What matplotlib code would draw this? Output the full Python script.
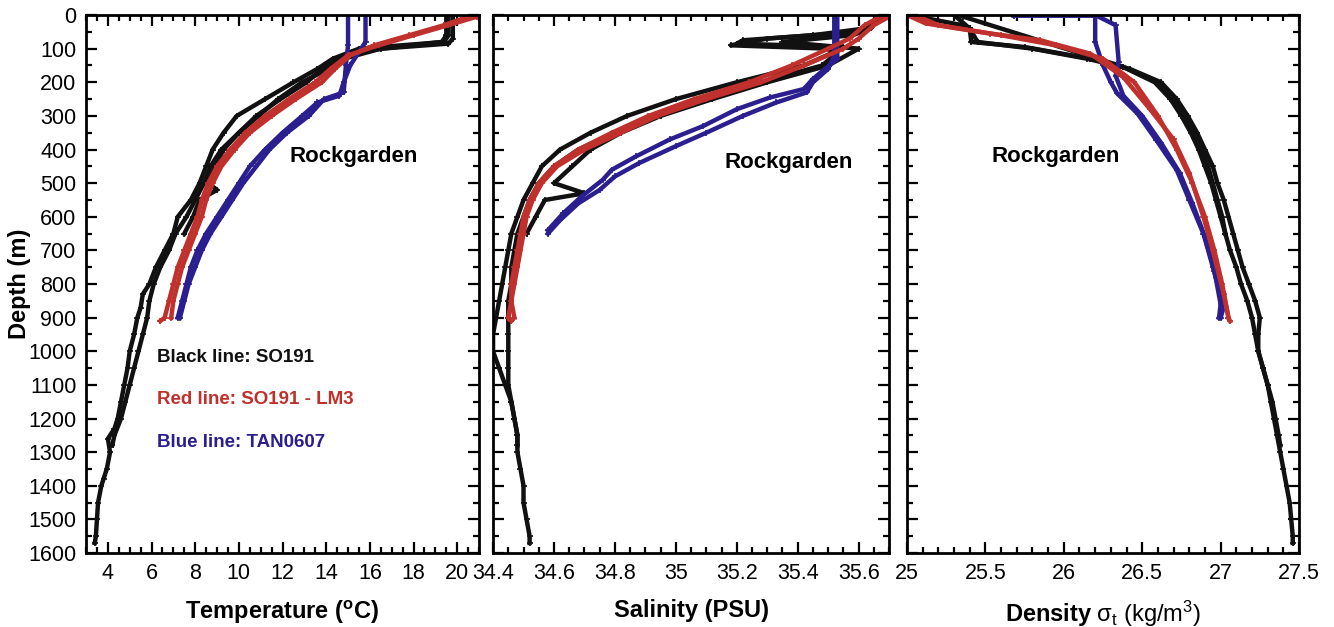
import matplotlib
matplotlib.use("Agg")
import matplotlib.pyplot as plt
from matplotlib.ticker import MultipleLocator, FormatStrFormatter

plt.rcParams["font.family"] = ["Liberation Sans", "DejaVu Sans"]
plt.rcParams["mathtext.fontset"] = "custom"
plt.rcParams["mathtext.rm"] = "Liberation Sans"
plt.rcParams["mathtext.it"] = "Liberation Sans:italic"
plt.rcParams["mathtext.bf"] = "Liberation Sans:bold"

BLACK = "#111111"
RED = "#c0302c"
BLUE = "#2b1f8f"

# ---- temperature profiles (depth m, degC) ----
temp_black1_depth = [0, 60, 80, 100, 130, 160, 200, 250, 300, 350, 400, 450, 500, 550, 600, 650, 700, 750,
                     800, 830, 870, 900, 950, 1000, 1050, 1100, 1150, 1200, 1230, 1260, 1300, 1350, 1380,
                     1400, 1450, 1500, 1550, 1570]
temp_black1 = [19.6, 19.6, 19.4, 15.5, 14.3, 13.6, 12.5, 11.2, 9.9, 9.3, 8.8, 8.5, 8.2, 7.8, 7.2, 7.0, 6.6, 6.2,
               5.9, 5.6, 5.5, 5.35, 5.2, 5.0, 4.9, 4.75, 4.6, 4.45, 4.3, 4.0, 4.1, 3.95, 3.8,
               3.7, 3.55, 3.5, 3.45, 3.4]
temp_black2_depth = [0, 70, 85, 100, 130, 170, 200, 250, 300, 350, 400, 450, 500, 550, 600, 650, 700, 750,
                     800, 850, 900, 950, 1000, 1050, 1100, 1150, 1200, 1250, 1280]
temp_black2 = [19.8, 19.8, 19.6, 16.5, 14.8, 13.8, 12.9, 11.8, 10.9, 10.0, 9.2, 8.7, 8.4, 8.0, 7.6, 7.1, 6.8, 6.4,
               6.1, 5.9, 5.8, 5.6, 5.4, 5.2, 5.0, 4.8, 4.6, 4.3, 4.2]
temp_black3_depth = [0, 60, 80, 110, 150, 200, 250, 300, 350, 400, 450, 500, 520, 550, 600, 650]
temp_black3 = [19.5, 19.5, 19.3, 15.2, 14.0, 13.1, 11.9, 10.8, 10.0, 9.3, 8.9, 8.6, 9.0, 8.2, 7.9, 7.5]
temp_red1_depth = [5, 30, 60, 90, 120, 160, 200, 250, 300, 350, 400, 450, 500, 550, 600, 650, 700, 750,
                   800, 850, 900, 910]
temp_red1 = [20.9, 19.6, 18.0, 16.4, 15.0, 14.2, 13.5, 12.3, 11.2, 10.3, 9.6, 9.0, 8.6, 8.3, 8.1, 7.8, 7.5, 7.2,
             7.0, 6.8, 6.6, 6.4]
temp_red2_depth = [0, 30, 60, 90, 120, 160, 200, 250, 300, 350, 400, 450, 500, 550, 600, 650, 700, 750,
                   800, 850, 900]
temp_red2 = [20.7, 19.4, 17.8, 16.2, 15.1, 14.4, 13.8, 12.6, 11.5, 10.5, 9.8, 9.2, 8.8, 8.5, 8.3, 8.0, 7.7, 7.4,
             7.2, 7.0, 6.9]
temp_blue1_depth = [0, 80, 110, 150, 200, 240, 260, 300, 350, 400, 450, 500, 550, 600, 650, 700, 750, 800,
                    850, 900]
temp_blue1 = [15.8, 15.8, 15.5, 15.1, 14.8, 14.6, 13.6, 12.9, 12.0, 11.2, 10.5, 10.0, 9.5, 9.0, 8.5, 8.1, 7.8,
              7.6, 7.4, 7.2]
temp_blue2_depth = [0, 90, 150, 230, 250, 300, 350, 400, 450, 500, 550, 600, 650, 700, 750, 800, 850, 900]
temp_blue2 = [15.0, 15.0, 14.9, 14.8, 13.9, 13.2, 12.2, 11.4, 10.8, 10.2, 9.7, 9.2, 8.7, 8.3, 8.0, 7.7, 7.5, 7.3]

# ---- salinity profiles (PSU) ----
sal_black1_depth = [0, 40, 60, 75, 85, 95, 110, 150, 200, 250, 300, 350, 400, 450, 500, 550, 600, 650, 700,
                    750, 800, 850, 900, 950, 1000, 1050, 1100, 1150, 1200, 1250, 1300, 1350, 1400, 1450,
                    1500, 1550, 1570]
sal_black1 = [35.69, 35.62, 35.45, 35.22, 35.2, 35.55, 35.52, 35.42, 35.2, 35.0, 34.84, 34.72, 34.62, 34.56,
              34.53, 34.5, 34.48, 34.46, 34.45, 34.44, 34.43, 34.42, 34.41, 34.40, 34.40, 34.42, 34.44,
              34.46, 34.47, 34.48, 34.48, 34.49, 34.5, 34.5, 34.51, 34.52, 34.52]
sal_black2_depth = [0, 50, 70, 90, 100, 120, 150, 200, 250, 300, 350, 400, 450, 500, 550, 600, 650, 700, 750,
                    800, 850, 900, 950, 1000, 1050, 1100, 1150, 1200, 1250, 1280]
sal_black2 = [35.68, 35.6, 35.3, 35.18, 35.5, 35.52, 35.48, 35.28, 35.1, 34.93, 34.8, 34.68, 34.6, 34.55,
              34.52, 34.5, 34.48, 34.47, 34.46, 34.46, 34.45, 34.45, 34.45, 34.45, 34.45, 34.45, 34.46,
              34.47, 34.48, 34.48]
sal_black3_depth = [0, 40, 60, 80, 100, 150, 200, 250, 300, 350, 400, 450, 500, 530, 550, 600, 650]
sal_black3 = [35.66, 35.64, 35.58, 35.35, 35.6, 35.5, 35.3, 35.12, 34.95, 34.82, 34.72, 34.66, 34.6, 34.7,
              34.57, 34.54, 34.51]
sal_red1_depth = [5, 30, 70, 100, 150, 200, 250, 300, 350, 400, 450, 500, 550, 600, 650, 700, 750, 800,
                  850, 900, 910]
sal_red1 = [35.7, 35.65, 35.6, 35.55, 35.42, 35.28, 35.1, 34.94, 34.82, 34.7, 34.61, 34.56, 34.53, 34.51,
            34.5, 34.49, 34.48, 34.47, 34.46, 34.45, 34.46]
sal_red2_depth = [0, 30, 70, 100, 150, 200, 250, 300, 350, 400, 450, 500, 550, 600, 650, 700, 750, 800,
                  850, 900]
sal_red2 = [35.68, 35.62, 35.57, 35.5, 35.38, 35.24, 35.06, 34.91, 34.79, 34.68, 34.6, 34.55, 34.52, 34.5,
            34.49, 34.48, 34.47, 34.46, 34.46, 34.47]
sal_blue1_depth = [0, 130, 145, 190, 220, 245, 280, 330, 370, 420, 460, 490, 540, 590, 640]
sal_blue1 = [35.53, 35.53, 35.51, 35.45, 35.42, 35.31, 35.2, 35.09, 34.98, 34.87, 34.79, 34.76, 34.69,
             34.63, 34.58]
sal_blue2_depth = [0, 120, 160, 200, 230, 260, 300, 350, 390, 440, 480, 520, 560, 610, 650]
sal_blue2 = [35.52, 35.52, 35.5, 35.45, 35.43, 35.33, 35.22, 35.1, 35.0, 34.88, 34.8, 34.75, 34.68,
             34.62, 34.58]

# ---- density profiles (sigma-t) ----
den_black1_depth = [0, 30, 40, 80, 95, 130, 155, 200, 250, 300, 350, 400, 450, 500, 550, 600, 650, 700, 750,
                    800, 850, 900, 950, 1000, 1050, 1100, 1150, 1200, 1250, 1300, 1350, 1400, 1450, 1500,
                    1550, 1570]
den_black1 = [25.02, 25.35, 25.4, 25.41, 25.75, 26.17, 26.38, 26.58, 26.68, 26.75, 26.81, 26.86, 26.9, 26.94,
              26.97, 27.0, 27.03, 27.06, 27.1, 27.13, 27.17, 27.2, 27.22, 27.24, 27.27, 27.3, 27.32, 27.34,
              27.36, 27.38, 27.4, 27.42, 27.44, 27.45, 27.46, 27.46]
den_black2_depth = [0, 40, 80, 100, 130, 160, 200, 250, 300, 350, 400, 450, 500, 550, 600, 650, 700, 750,
                    800, 850, 900, 950, 1000, 1050, 1100, 1150, 1200, 1250, 1280]
den_black2 = [25.3, 25.4, 25.45, 25.8, 26.15, 26.42, 26.62, 26.72, 26.79, 26.85, 26.9, 26.95, 26.98, 27.02,
              27.05, 27.08, 27.11, 27.14, 27.18, 27.22, 27.25, 27.24, 27.24, 27.27, 27.3, 27.33, 27.35,
              27.37, 27.38]
den_black3_depth = [5, 154, 200, 250, 300, 350, 400, 450, 500, 550, 600, 650]
den_black3 = [25.36, 26.38, 26.6, 26.7, 26.77, 26.83, 26.88, 26.92, 26.95, 26.98, 27.01, 27.03]
den_red1_depth = [0, 25, 55, 75, 115, 185, 280, 370, 470, 600, 700, 830, 900, 910]
den_red1 = [25.0, 25.12, 25.53, 25.85, 26.17, 26.38, 26.55, 26.7, 26.8, 26.89, 26.95, 27.02, 27.05, 27.06]
den_red2_depth = [0, 30, 60, 90, 130, 200, 300, 400, 500, 600, 700, 800, 900]
den_red2 = [25.05, 25.2, 25.6, 25.95, 26.25, 26.45, 26.6, 26.72, 26.82, 26.9, 26.96, 27.01, 27.05]
den_blue1_depth = [2, 2, 0, 80, 150, 200, 233, 293, 372, 461, 550, 650, 749, 868, 900]
den_blue1 = [25.68, 26.2, 26.2, 26.2, 26.25, 26.3, 26.34, 26.47, 26.59, 26.72, 26.8, 26.89, 26.95, 27.02, 27.0]
den_blue2_depth = [0, 30, 140, 180, 240, 300, 380, 470, 560, 660, 760, 860, 900]
den_blue2 = [26.2, 26.33, 26.35, 26.33, 26.38, 26.5, 26.62, 26.74, 26.82, 26.9, 26.96, 27.0, 26.99]

panels = [
    {
        "profiles": [(temp_black1, temp_black1_depth, BLACK), (temp_black2, temp_black2_depth, BLACK),
                     (temp_black3, temp_black3_depth, BLACK), (temp_blue1, temp_blue1_depth, BLUE),
                     (temp_blue2, temp_blue2_depth, BLUE), (temp_red1, temp_red1_depth, RED),
                     (temp_red2, temp_red2_depth, RED)],
        "xlim": (3, 21), "major": 2, "minor": 0.5,
        "xlabel": r"Temperature ($\mathbf{^o}$C)", "weight": "bold",
        "rock": (15.25, 420),
    },
    {
        "profiles": [(sal_black1, sal_black1_depth, BLACK), (sal_black2, sal_black2_depth, BLACK),
                     (sal_black3, sal_black3_depth, BLACK), (sal_blue1, sal_blue1_depth, BLUE),
                     (sal_blue2, sal_blue2_depth, BLUE), (sal_red1, sal_red1_depth, RED),
                     (sal_red2, sal_red2_depth, RED)],
        "xlim": (34.4, 35.7), "major": 0.2, "minor": 0.05,
        "xlabel": "Salinity (PSU)", "weight": "bold",
        "rock": (35.37, 440),
    },
    {
        "profiles": [(den_black1, den_black1_depth, BLACK), (den_black2, den_black2_depth, BLACK),
                     (den_black3, den_black3_depth, BLACK), (den_blue1, den_blue1_depth, BLUE),
                     (den_blue2, den_blue2_depth, BLUE), (den_red1, den_red1_depth, RED),
                     (den_red2, den_red2_depth, RED)],
        "xlim": (25, 27.5), "major": 0.5, "minor": 0.1,
        "xlabel": r"$\mathbf{Density}$ $\mathrm{\sigma_t}$ (kg/m$^3$)", "weight": "normal",
        "rock": (25.95, 420),
    },
]

fig = plt.figure(figsize=(13.34, 6.27), dpi=100)
boxes = [[0.0645, 0.118, 0.2946, 0.858],
         [0.3696, 0.118, 0.2969, 0.858],
         [0.6799, 0.118, 0.2939, 0.858]]

for i, (p, box) in enumerate(zip(panels, boxes)):
    ax = fig.add_axes(box)
    for x, d, c in p["profiles"]:
        ax.plot(x, d, color=c, lw=3.2, marker="+", ms=4, mew=1.2, solid_joinstyle="round")
    ax.set_xlim(*p["xlim"])
    ax.set_ylim(1600, 0)
    ax.xaxis.set_major_locator(MultipleLocator(p["major"]))
    ax.xaxis.set_minor_locator(MultipleLocator(p["minor"]))
    ax.xaxis.set_major_formatter(FormatStrFormatter("%g"))
    ax.yaxis.set_major_locator(MultipleLocator(100))
    ax.yaxis.set_minor_locator(MultipleLocator(50))
    ax.tick_params(which="both", direction="in", top=True, right=True, width=1.6)
    ax.tick_params(which="major", length=8, labelsize=15.5, pad=7)
    ax.tick_params(which="minor", length=4)
    for s in ax.spines.values():
        s.set_linewidth(2)
    if i == 0:
        ax.set_ylabel("Depth (m)", fontsize=17, fontweight="bold")
        ax.yaxis.set_label_coords(-0.14, 0.5)
    else:
        ax.tick_params(axis="y", labelleft=False)
    ax.set_xlabel(p["xlabel"], fontsize=17, fontweight=p["weight"], labelpad=11)
    rx, ry = p["rock"]
    ax.text(rx, ry, "Rockgarden", fontsize=16, fontweight="bold", ha="center", va="center")
    if i == 0:
        ax.text(6.25, 1018, "Black line: SO191", color=BLACK, fontsize=13.5, fontweight="bold", va="center")
        ax.text(6.25, 1143, "Red line: SO191 - LM3", color=RED, fontsize=13.5, fontweight="bold", va="center")
        ax.text(6.25, 1270, "Blue line: TAN0607", color=BLUE, fontsize=13.5, fontweight="bold", va="center")

fig.savefig("out.png", dpi=100)
